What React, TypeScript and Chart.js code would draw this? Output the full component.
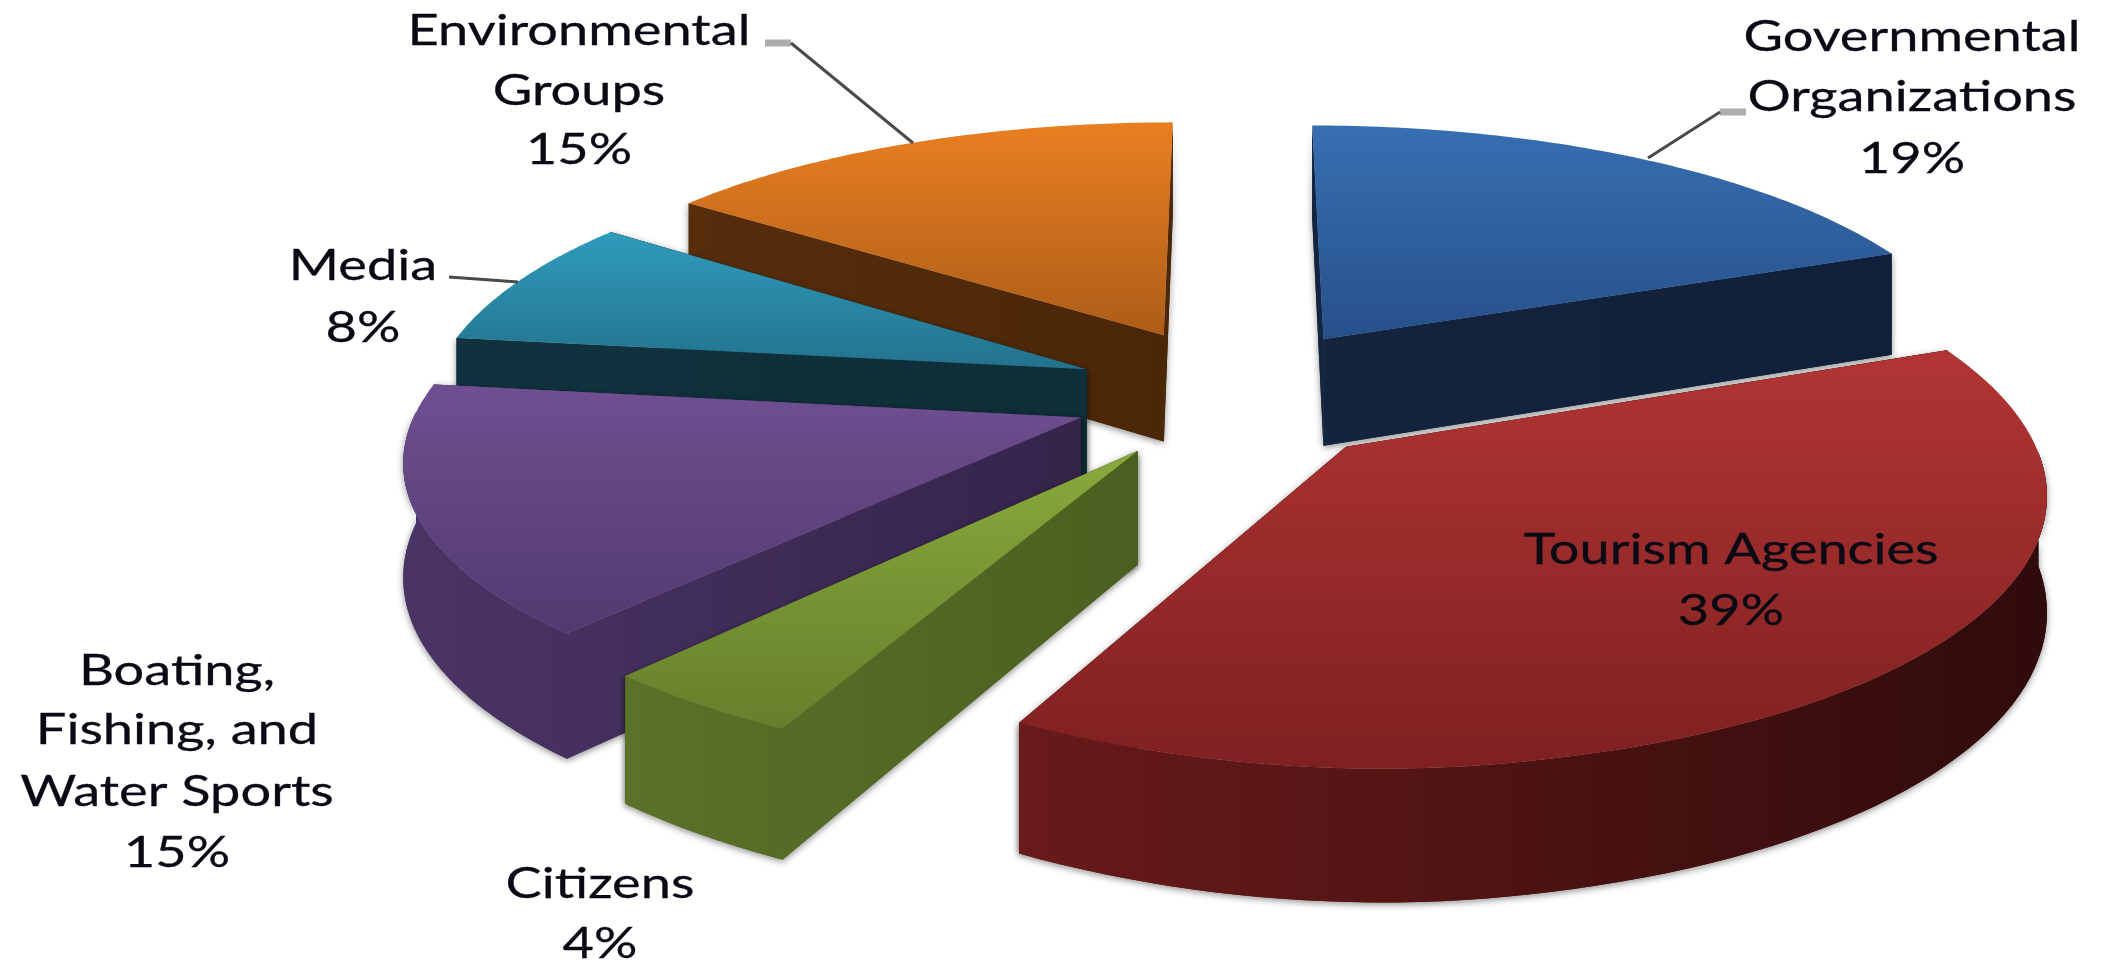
import React, { useEffect, useRef } from "react";
import { Chart, registerables } from "chart.js";

Chart.register(...registerables);

const categories = ["Governmental Organizations", "Tourism Agencies", "Citizens", "Boating, Fishing, and Water Sports", "Media", "Environmental Groups"];
const shares = [19, 39, 4, 15, 8, 15];
const labelLines = [
  ["Governmental", "Organizations", "19%"],
  ["Tourism Agencies", "39%"],
  ["Citizens", "4%"],
  ["Boating,", "Fishing, and", "Water Sports", "15%"],
  ["Media", "8%"],
  ["Environmental", "Groups", "15%"],
];
const labelX = [1912, 1731, 600, 177, 363, 579];
const labelY = [
  [37, 97, 159],
  [550, 611],
  [884, 944],
  [671, 730, 792, 853],
  [266, 328],
  [31, 91, 150],
];
const topLight = ["#376fb2", "#b23535", "#88aa3c", "#6f4f91", "#2f9cbc", "#e97f22"];
const topDark = ["#27508a", "#7f2020", "#667f2c", "#523a70", "#23728c", "#ad5d18"];
const sideLight = ["#14243e", "#691a1a", "#5b7229", "#4a3465", "#10323e", "#572d0c"];
const sideDark = ["#11203a", "#300b0b", "#4b5f20", "#35244a", "#0e2e38", "#4a2707"];
const paintOrder = [5, 0, 4, 3, 2, 1];
const leaderLines = [
  [[791, 43], [913, 143]],
  [[1720, 112], [1648, 158]],
  [[449, 277], [518, 282]],
];
const leaderStubs = [
  [[765, 43], [791, 43]],
  [[1746, 112], [1720, 112]],
];

const CX = 1235, CY = 394, RX = 670, RY = 261, DEPTH = 110, K = 0.15;
const SHEAR = 0.05, LEFT_TRIM = 0.012, EXPLODE_Y = 1.08, FRONT_Y = 0.985;

function project(u: number, v: number, z: number): [number, number] {
  const s = 1 / (1 - K * v);
  let x = u;
  if (v > 0) x += SHEAR * v * v * Math.min(1, Math.max(0, (0.4 - u) / 0.8));
  if (u < 0) x += LEFT_TRIM * u * u * Math.max(0, 1 - v * v);
  return [CX + x * RX * s, CY + v * RY * s + z * DEPTH * s];
}

const pie3d = {
  id: "pie3d",
  beforeDatasetsDraw(chart: any) {
    const ctx: CanvasRenderingContext2D = chart.ctx;
    const arcs = chart.getDatasetMeta(0).data;
    for (const i of paintOrder) {
      const arc = arcs[i];
      const a0: number = arc.startAngle, a1: number = arc.endAngle, R: number = arc.outerRadius;
      const e = arc.options.offset / R;
      const mid = (a0 + a1) / 2;
      const ox = Math.cos(mid) * e, oy = Math.sin(mid) * e * EXPLODE_Y;
      const rim = (a: number): [number, number] => {
        const sn = Math.sin(a);
        return [ox + Math.cos(a), oy + (sn > 0 ? sn * FRONT_Y : sn)];
      };
      const top: [number, number][] = [project(ox, oy, 0)];
      const N = 80;
      for (let k = 0; k <= N; k++) {
        const p = rim(a0 + ((a1 - a0) * k) / N);
        top.push(project(p[0], p[1], 0));
      }
      const poly = (pts: [number, number][]) => {
        ctx.beginPath();
        pts.forEach((p, n) => (n ? ctx.lineTo(p[0], p[1]) : ctx.moveTo(p[0], p[1])));
        ctx.closePath();
      };
      const xs = top.map((p) => p[0]), ys = top.map((p) => p[1]);
      const side = ctx.createLinearGradient(Math.min(...xs), 0, Math.max(...xs), 0);
      side.addColorStop(0, sideLight[i]);
      side.addColorStop(1, sideDark[i]);
      const upper: [number, number][] = [], lower: [number, number][] = [];
      for (let k = 0; k <= N; k++) {
        const a = a0 + ((a1 - a0) * k) / N;
        const norm = ((a % (2 * Math.PI)) + 2 * Math.PI) % (2 * Math.PI);
        if (norm <= Math.PI + 0.02) {
          const p = rim(a);
          upper.push(project(p[0], p[1], 0));
          lower.unshift(project(p[0], p[1], 1));
        }
      }
      const drawSides = () => {
        for (const a of [a0, a1]) {
          const p = rim(a);
          poly([project(ox, oy, 0), project(p[0], p[1], 0), project(p[0], p[1], 1), project(ox, oy, 1)]);
          ctx.fill();
        }
        if (upper.length > 1) {
          poly([...upper, ...lower]);
          ctx.fill();
        }
      };
      ctx.save();
      ctx.fillStyle = side;
      ctx.shadowColor = "rgba(0,0,0,0.45)";
      ctx.shadowBlur = 7;
      ctx.shadowOffsetY = 2;
      drawSides();
      ctx.shadowColor = "transparent";
      ctx.shadowBlur = 0;
      ctx.shadowOffsetY = 0;
      drawSides();
      ctx.restore();
      const g = ctx.createLinearGradient(0, Math.min(...ys), 0, Math.max(...ys));
      g.addColorStop(0, topLight[i]);
      g.addColorStop(1, topDark[i]);
      poly(top);
      ctx.fillStyle = g;
      ctx.fill();
    }
    return false;
  },
  afterDraw(chart: any) {
    const ctx: CanvasRenderingContext2D = chart.ctx;
    ctx.save();
    const stroke = (line: number[][], color: string, w: number) => {
      ctx.beginPath();
      line.forEach((p, n) => (n ? ctx.lineTo(p[0], p[1]) : ctx.moveTo(p[0], p[1])));
      ctx.strokeStyle = color;
      ctx.lineWidth = w;
      ctx.stroke();
    };
    leaderStubs.forEach((l) => stroke(l, "#adadad", 7));
    leaderLines.forEach((l) => stroke(l, "#4a4a4a", 3));
    ctx.fillStyle = "#0a0a14";
    ctx.strokeStyle = "#0a0a14";
    ctx.lineWidth = 0.3;
    ctx.textAlign = "center";
    ctx.textBaseline = "middle";
    ctx.font = '43px "Lato"';
    labelLines.forEach((lines, i) => {
      lines.forEach((t, j) => {
        ctx.save();
        ctx.translate(labelX[i], labelY[i][j]);
        ctx.scale(1.26, 1);
        ctx.fillText(t, 0, 0);
        ctx.strokeText(t, 0, 0);
        ctx.restore();
      });
    });
    ctx.restore();
  },
};

export default function App() {
  const ref = useRef<HTMLCanvasElement>(null);
  useEffect(() => {
    const chart = new Chart(ref.current as HTMLCanvasElement, {
      type: "pie",
      data: {
        labels: categories,
        datasets: [{ data: shares, backgroundColor: topLight, offset: 104, borderWidth: 0 }],
      },
      options: {
        responsive: false,
        animation: false,
        layout: { padding: 0 },
        plugins: { legend: { display: false }, tooltip: { enabled: false } },
      },
      plugins: [pie3d],
    } as any);
    return () => chart.destroy();
  }, []);
  return (
    <canvas
      ref={ref}
      width={2101}
      height={962}
      style={{ position: "absolute", left: 0, top: 0, width: 2101, height: 962, filter: "blur(0.7px)" }}
    />
  );
}
